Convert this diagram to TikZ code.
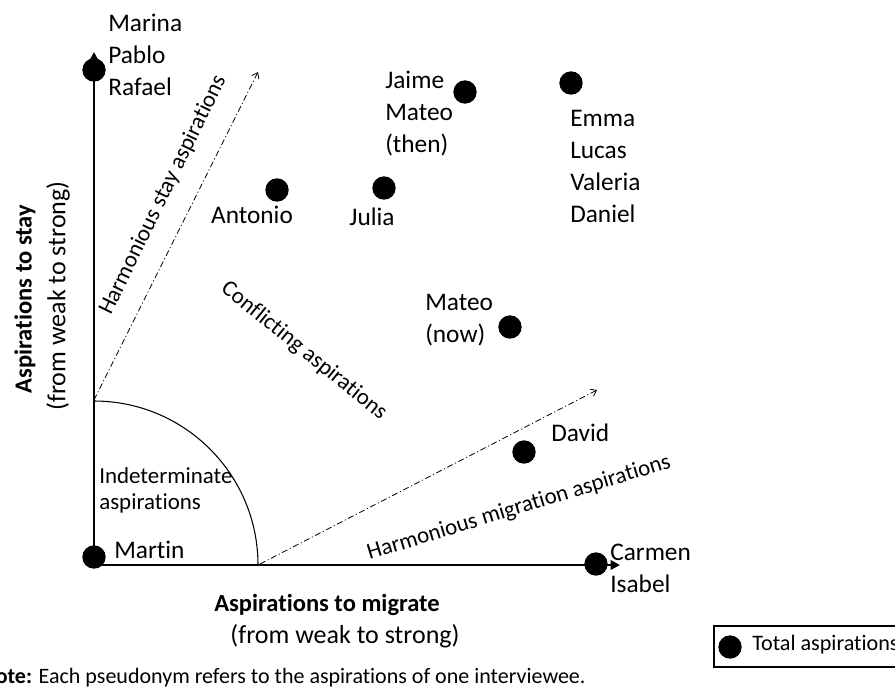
\documentclass[tikz,border=0pt]{standalone}
\usepackage{fontspec}
\setmainfont{Carlito}[Ligatures=CommonOff]
\usetikzlibrary{arrows.meta}
\begin{document}
\begin{tikzpicture}[x=0.75pt,y=-0.75pt,
  dot/.style={circle,fill=black,inner sep=0pt,minimum size=17.5pt},
  pname/.style={font=\fontsize{19}{24}\selectfont,align=left,anchor=west,inner sep=0pt},
  small/.style={font=\fontsize{17.2}{19.5}\selectfont,inner sep=0pt},
  axislbl/.style={font=\fontsize{19.5}{22}\selectfont,inner sep=0pt},
  axisbold/.style={font=\bfseries\fontsize{18.4}{22}\selectfont,inner sep=0pt},
  axis/.style={line width=2.2pt,-{Triangle[length=7pt,width=7pt]}},
  guide/.style={line width=0.6pt,dash pattern=on 4.5pt off 2pt on 0.8pt off 2pt,-{Straight Barb[length=4pt,width=6pt]}},
  legendbox/.style={draw,line width=1.5pt,inner sep=0pt}
]
\clip (0,0) rectangle (895,686);
\fill[white] (0,0) rectangle (895,686);

% axes
\coordinate (O) at (94,565);
\coordinate (Ytop) at (94,52);
\coordinate (Xend) at (620,565);
\draw[axis] (O) -- (Ytop);
\draw[axis] (O) -- (Xend);

% indeterminate arc
\coordinate (A1) at (94,401);
\draw[line width=0.8pt] (A1) arc[start angle=90,end angle=0,radius=123pt];

% guide arrows
\coordinate (S0) at (94,400);
\coordinate (S1) at (258,72);
\coordinate (M0) at (260,564);
\coordinate (M1) at (597,390);
\draw[guide] (S0) -- (S1);
\draw[guide] (M0) -- (M1);

% region labels
\node[small,rotate=64] (hs) at (163,195) {Harmonious stay aspirations};
\node[small,rotate=-39] (conf) at (304,351) {Conflicting aspirations};
\node[small,rotate=17] (hm) at (519,508) {Harmonious migration aspirations};
\node[small,anchor=west,align=left] (ind) at (99,490) {Indeterminate\\aspirations};

% axis labels
\node[axisbold] (xl) at (327,605) {Aspirations to migrate};
\node[axislbl] (xs) at (345,636) {(from weak to strong)};
\node[axisbold,rotate=90] (yl) at (25,299) {Aspirations to stay};
\node[axislbl,rotate=90] (ys) at (58,296) {(from weak to strong)};

% dots
\node[dot] (dMarina) at (94,70) {};
\node[dot] (dAntonio) at (277,190) {};
\node[dot] (dJulia) at (384,188) {};
\node[dot] (dJaime) at (465,92) {};
\node[dot] (dEmma) at (571,83) {};
\node[dot] (dMateo) at (510,327) {};
\node[dot] (dDavid) at (524,452) {};
\node[dot] (dCarmen) at (596,564) {};
\node[dot] (dMartin) at (94,557) {};

% names
\node[pname] (tMarina) at (108,55) {Marina\\Pablo\\Rafael};
\node[pname,anchor=center] (tAntonio) at (252,215) {Antonio};
\node[pname,anchor=center] (tJulia) at (372,217) {Julia};
\node[pname] (tJaime) at (385,114) {Jaime\\Mateo\\(then)};
\node[pname] (tEmma) at (570,166) {Emma\\Lucas\\Valeria\\Daniel};
\node[pname] (tMateo) at (425,320) {Mateo\\(now)};
\node[pname] (tDavid) at (551,433) {David};
\node[pname] (tCarmen) at (610,568) {Carmen\\Isabel};
\node[pname] (tMartin) at (114,550) {Martin};

% legend
\node[legendbox,anchor=west,minimum width=150pt,minimum height=31pt] (legend) at (713,646.5) {};
\node[dot] (ldot) at (730,647) {};
\node[anchor=west,inner sep=0pt,font=\fontsize{16.6}{19}\selectfont] (ltext) at (752,645) {Total aspirations};

% note
\node[anchor=base west,inner sep=0pt,font=\fontsize{16.5}{18}\selectfont] (note) at (-19,683) {\textbf{Note:} Each pseudonym refers to the aspirations of one interviewee.};
\end{tikzpicture}
\end{document}
